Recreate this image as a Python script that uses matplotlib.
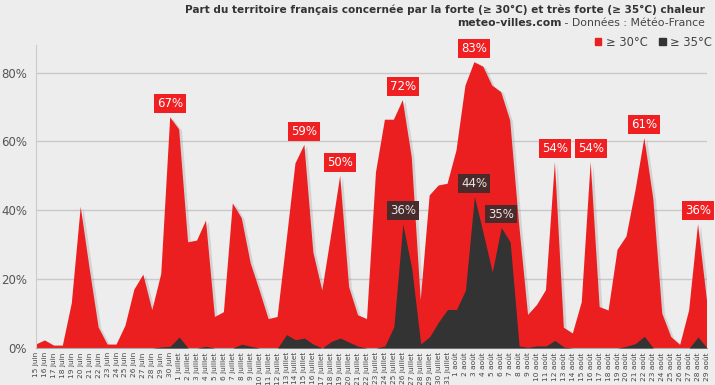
import matplotlib
matplotlib.use("Agg")
import matplotlib.pyplot as plt
import matplotlib.patheffects as pe
from matplotlib.patches import Patch
import numpy as np

# ---------------- data ----------------
months = ["juin"] * 16 + ["juillet"] * 31 + ["août"] * 29
day_numbers = list(range(15, 31)) + list(range(1, 32)) + list(range(1, 30))
tick_labels = [f"{d} {m}" for d, m in zip(day_numbers, months)]

hot30 = [1, 2.2, 0.7, 0.7, 13, 41, 23, 6, 1, 1,
         6.5, 17, 21.3, 11, 21.5, 67, 63.5, 30.7, 31.2, 37,
         9, 10.4, 42, 37.7, 24.6, 16.7, 8.4, 9, 31, 53.6,
         59, 27.8, 16.7, 33, 50, 17.7, 9.5, 8.4, 51, 66.3,
         66.3, 72, 55.4, 13.9, 44.3, 47.2, 47.7, 57.4, 76.2, 83,
         81.7, 76.2, 74.3, 66.1, 36, 9.6, 12.5, 16.8, 54, 5.9,
         4.2, 13.3, 54, 11.9, 10.9, 28.5, 32.4, 45.7, 61, 43.3,
         10, 3.2, 0.9, 10.9, 36, 13.8]

hot35 = [0, 0, 0, 0, 0, 0, 0, 0, 0, 0,
         0, 0, 0, 0, 0.3, 0.5, 3.2, 0, 0, 0.5,
         0, 0, 0, 1.1, 0.5, 0, 0, 0, 3.9, 2.4,
         2.9, 1.1, 0, 1.9, 2.9, 1.7, 0.5, 0, 0, 0.6,
         6.2, 36, 23.1, 1.2, 3.3, 7.6, 11.2, 11.2, 16.8, 44,
         33.2, 22.1, 35, 30.8, 0.6, 0.2, 0.6, 0.6, 2.2, 0.3,
         0, 0, 0, 0, 0, 0, 0.5, 1.3, 3.4, 0,
         0, 0, 0, 0, 3.2, 0]

red_label_idx = [15, 30, 34, 41, 49, 58, 62, 68, 74]
dark_label_idx = [41, 49, 52]

series_names = ["≥ 30°C", "≥ 35°C"]
title = "Part du territoire français concernée par la forte (≥ 30°C) et très forte (≥ 35°C) chaleur"
source_bold = "meteo-villes.com"
source_rest = " - Données : Météo-France"

# ---------------- style ----------------
BG = "#ededed"
RED = "#ec1f20"
DARK = "#333333"
TFONT = ["Liberation Sans Narrow", "DejaVu Sans"]

W, H = 715, 385
fig = plt.figure(figsize=(W / 100, H / 100), dpi=100, facecolor=BG)
ax = fig.add_axes([36 / W, 1 - 348 / H, 671 / W, 303 / H])
ax.set_facecolor(BG)

x = np.arange(len(hot30))
shadow = [pe.SimplePatchShadow(offset=(2, -1), shadow_rgbFace="#888888", alpha=0.25), pe.Normal()]
ax.fill_between(x, 0, hot30, color=RED, lw=0, zorder=2, path_effects=shadow)
ax.fill_between(x, 0, hot35, color=DARK, lw=0, zorder=3)

ax.set_xlim(0, len(hot30) - 1)
ax.set_ylim(0, 88)
ax.set_yticks([0, 20, 40, 60, 80])
ax.set_yticklabels([f"{v}%" for v in [0, 20, 40, 60, 80]])
ax.yaxis.grid(True, color="#c9c9c9", lw=1)
ax.set_axisbelow(True)

ax.set_xticks(x)
ax.set_xticklabels(tick_labels, rotation=90, va="top", ha="center")
ax.tick_params(axis="x", length=0, pad=3, labelsize=5.3, labelcolor="#444444")
ax.tick_params(axis="y", length=0, pad=6.5, labelsize=8.5, labelcolor="#555555")

for s in ["top", "right"]:
    ax.spines[s].set_visible(False)
ax.spines["left"].set_color("#cccccc")
ax.spines["bottom"].set_color("#aaaaaa")

for i in red_label_idx:
    ax.annotate(f"{hot30[i]:.0f}%", xy=(i, hot30[i]), xytext=(0, 5), textcoords="offset points",
                ha="center", va="bottom", fontsize=8.5, color="white", zorder=5,
                bbox=dict(boxstyle="square,pad=0.25", fc="#f01f22", ec="none"))
for i in dark_label_idx:
    ax.annotate(f"{hot35[i]:.0f}%", xy=(i, hot35[i]), xytext=(0, 5), textcoords="offset points",
                ha="center", va="bottom", fontsize=8.5, color="#e6e6e6", zorder=5,
                bbox=dict(boxstyle="square,pad=0.25", fc="#4a2b2b", ec="none"))

# titles
fig.text(705 / W, 1 - 10 / H, title, ha="right", va="center", fontsize=7.6,
         weight="bold", color="#333333", family=TFONT)
t2 = fig.text(705 / W, 1 - 23 / H, source_rest, ha="right", va="center", fontsize=7.8,
              color="#444444", family=TFONT)
src = plt.Annotation(source_bold, xy=(0, 0.5), xycoords=t2, ha="right", va="center",
                     fontsize=7.8, weight="bold", color="#333333", family=TFONT)
src.set_figure(fig)
fig.texts.append(src)

handles = [Patch(color=RED), Patch(color=DARK)]
fig.legend(handles, series_names, loc="center right", bbox_to_anchor=(712 / W, 1 - 42 / H),
           ncol=2, frameon=False, fontsize=8.3, handlelength=0.55, handleheight=0.55,
           handletextpad=0.4, columnspacing=1.0, borderaxespad=0, borderpad=0,
           labelcolor="#444444")

fig.savefig("out.png", dpi=100, facecolor=BG)
